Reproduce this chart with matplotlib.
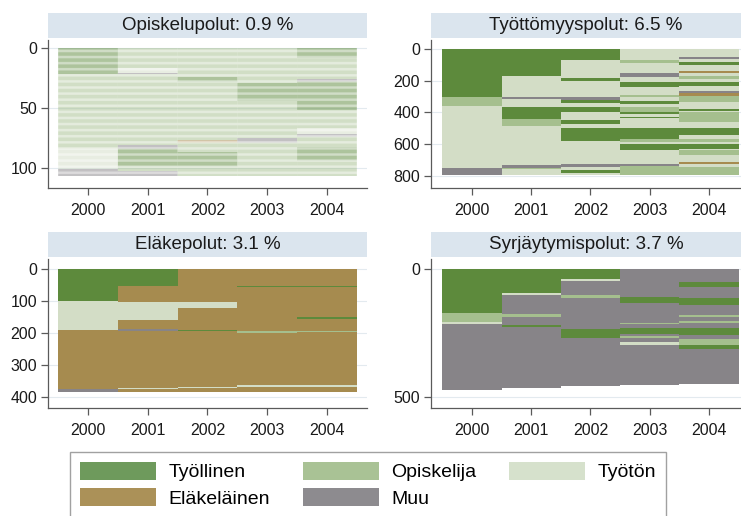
import numpy as np
import matplotlib
matplotlib.use('Agg')
import matplotlib.pyplot as plt
from matplotlib.patches import Patch, Rectangle

plt.rcParams['font.family'] = ['Liberation Sans', 'DejaVu Sans']

years = [2000, 2001, 2002, 2003, 2004]

# state codes: T = Työllinen, O = Opiskelija, U = Työtön, E = Eläkeläinen, M = Muu
state_codes = ['T', 'O', 'U', 'E', 'M']
state_names = ['Työllinen', 'Opiskelija', 'Työtön', 'Eläkeläinen', 'Muu']
bar_colors = {'T': '#5d8a3c', 'O': '#a5bf8e', 'U': '#d3ddc6', 'E': '#a68b4f', 'M': '#878488'}
legend_colors = {'T': '#6e9a5c', 'O': '#a9c295', 'U': '#d6e1cc', 'E': '#ab9158', 'M': '#8d8b8f'}

panel_titles = ['Opiskelupolut: 0.9 %', 'Työttömyyspolut: 6.5 %',
                'Eläkepolut: 3.1 %', 'Syrjäytymispolut: 3.7 %']

# runs of (state, number of persons), top to bottom, one list per year
opiskelu = [
    [('T', 22), ('O', 62), ('U', 17), ('M', 6)],
    [('O', 17), ('U', 4), ('M', 1), ('O', 59), ('M', 3), ('T', 15), ('O', 4), ('M', 4)],
    [('O', 24), ('T', 4), ('O', 49), ('E', 2), ('O', 8), ('T', 12), ('O', 8)],
    [('O', 29), ('T', 15), ('O', 31), ('M', 4), ('O', 28)],
    [('T', 8), ('O', 18), ('M', 2), ('T', 24), ('O', 15), ('U', 5), ('M', 2), ('O', 9), ('T', 11), ('O', 13)],
]

tyottomyys = [
    [('T', 305), ('O', 55), ('U', 390), ('M', 45)],
    [('T', 168), ('U', 134), ('M', 12), ('U', 50), ('T', 80), ('O', 42), ('U', 248), ('M', 15), ('O', 10), ('U', 36)],
    [('T', 70), ('U', 110), ('T', 23), ('U', 97), ('M', 18), ('T', 23), ('U', 22), ('T', 37), ('U', 45),
     ('T', 25), ('U', 27), ('T', 80), ('U', 148), ('M', 20), ('U', 20), ('T', 17), ('U', 13)],
    [('U', 70), ('O', 15), ('U', 68), ('M', 21), ('U', 36), ('T', 31), ('U', 46), ('O', 13), ('U', 25),
     ('T', 21), ('U', 21), ('O', 31), ('T', 11), ('U', 17), ('T', 8), ('U', 63), ('T', 69), ('O', 21),
     ('U', 11), ('T', 42), ('U', 83), ('M', 17), ('O', 55)],
    [('U', 48), ('M', 15), ('U', 21), ('T', 15), ('U', 42), ('E', 12), ('U', 15), ('O', 21), ('U', 21),
     ('T', 21), ('U', 31), ('M', 17), ('E', 15), ('O', 42), ('U', 41), ('T', 11), ('U', 11), ('O', 63),
     ('U', 35), ('T', 48), ('U', 21), ('O', 21), ('U', 11), ('T', 31), ('U', 11), ('O', 31), ('U', 42),
     ('E', 15), ('U', 17), ('O', 50)],
]

elake = [
    [('T', 100), ('U', 90), ('E', 185), ('M', 10)],
    [('T', 55), ('E', 49), ('U', 55), ('E', 28), ('M', 7), ('E', 180), ('U', 4), ('E', 7)],
    [('E', 104), ('U', 20), ('E', 66), ('T', 4), ('E', 176), ('U', 4), ('E', 11)],
    [('E', 54), ('T', 4), ('E', 138), ('O', 5), ('E', 164), ('U', 5), ('E', 15)],
    [('E', 54), ('T', 4), ('E', 94), ('T', 4), ('E', 38), ('O', 5), ('E', 166), ('U', 5), ('E', 15)],
]

syrjaytyminen = [
    [('T', 173), ('O', 33), ('U', 9), ('M', 258)],
    [('T', 95), ('U', 8), ('M', 73), ('O', 10), ('M', 32), ('T', 8), ('M', 242)],
    [('T', 40), ('U', 5), ('M', 55), ('O', 15), ('M', 118), ('T', 38), ('M', 189)],
    [('M', 110), ('T', 22), ('M', 78), ('O', 6), ('M', 16), ('T', 22), ('M', 10), ('O', 8), ('M', 13),
     ('U', 14), ('M', 157)],
    [('M', 50), ('T', 21), ('M', 44), ('T', 26), ('M', 39), ('O', 7), ('M', 17), ('O', 6), ('M', 22),
     ('T', 26), ('M', 18), ('O', 20), ('T', 16), ('M', 138)],
]

panel_runs = [opiskelu, tyottomyys, elake, syrjaytyminen]
panel_yticks = [[0, 50, 100], [0, 200, 400, 600, 800], [0, 100, 200, 300, 400], [0, 500]]
panel_ylims = [(117, -6.7), (877, -58), (436, -31), (545, -40)]
panel_rowh = [0.42, 1, 1, 1]


def draw_sequences(ax, runs, row_h):
    for x, col in zip(years, runs):
        codes = [c for c, n in col]
        sizes = np.array([n for c, n in col])
        if row_h >= 1:
            starts = np.concatenate([[0], np.cumsum(sizes)[:-1]])
            ax.bar(x, sizes, bottom=starts, width=1.0,
                   color=[bar_colors[c] for c in codes], linewidth=0)
        else:
            # few sequences: each person drawn as its own thin line, not snapped to pixels
            rows = np.arange(sizes.sum())
            row_codes = np.repeat(codes, sizes)
            bars = ax.bar(x, row_h, bottom=rows + (1 - row_h) / 2, width=1.0,
                          color=[bar_colors[c] for c in row_codes], linewidth=0)
            for p in bars:
                p.set_snap(False)


W, H = 741, 516
fig = plt.figure(figsize=(W / 100, H / 100), dpi=100)

# axes boxes in pixels: left, right, top, bottom
boxes = [(48, 367, 40, 188), (431, 741, 40, 188), (48, 367, 259, 408), (431, 741, 259, 408)]
xlims = [(1999.33, 2004.67), (1999.31, 2004.54), (1999.33, 2004.67), (1999.31, 2004.54)]

for i in range(4):
    l, r, t, b = boxes[i]
    ax = fig.add_axes([l / W, 1 - b / H, (r - l) / W, (b - t) / H])
    draw_sequences(ax, panel_runs[i], panel_rowh[i])
    ax.set_xlim(*xlims[i])
    ax.set_ylim(*panel_ylims[i])
    ax.set_xticks(years)
    ax.set_yticks(panel_yticks[i])
    ax.grid(axis='y', color='#e3eaef', lw=0.8)
    ax.set_axisbelow(True)
    for s in ['top', 'right']:
        ax.spines[s].set_visible(False)
    for s in ['left', 'bottom']:
        ax.spines[s].set_color('#5a5a5a')
        ax.spines[s].set_linewidth(0.9)
    ax.tick_params(axis='both', length=5, width=0.9, color='#5a5a5a',
                   labelsize=11.5, labelcolor='#1a1a1a')
    ax.tick_params(axis='x', pad=6)
    ax.tick_params(axis='y', pad=3)
    # title strip
    ax.add_patch(Rectangle((0, 1.013), 1.0, 0.168, transform=ax.transAxes,
                           clip_on=False, facecolor='#dbe5ee', linewidth=0))
    ax.text(0.5, 1.097, panel_titles[i], transform=ax.transAxes,
            ha='center', va='center', fontsize=13.5, color='#1a1a1a')

# legend, filled column-wise so it reads row-wise like the original
order = ['T', 'E', 'O', 'M', 'U']
handles = [Patch(facecolor=legend_colors[c], edgecolor='none') for c in order]
labels = [state_names[state_codes.index(c)] for c in order]
leg = fig.legend(handles, labels, loc='upper left', bbox_to_anchor=(70 / W, 1 - 452 / H),
                 ncol=3, fontsize=14, frameon=True, fancybox=False, edgecolor='#8a8a8a',
                 handlelength=3.9, handleheight=1.05, handletextpad=0.65,
                 labelspacing=0.35, columnspacing=1.7, borderpad=0.5, borderaxespad=0)
leg.get_frame().set_linewidth(1.0)

fig.savefig('out.png', dpi=100)
